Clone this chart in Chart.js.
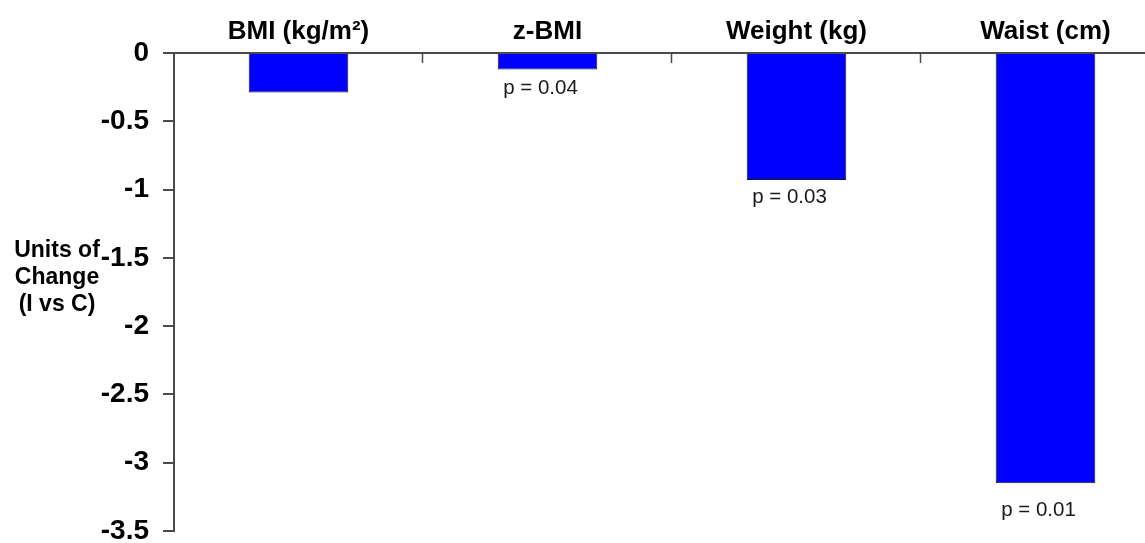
<!DOCTYPE html>
<html lang="en">
<head>
  <meta charset="UTF-8">
  <title>Units of Change (I vs C)</title>
  <style>
    body {
      margin: 0;
      background: #fff;
      overflow: hidden;
    }
    #myChart {
      display: block;
    }
  </style>
</head>
<body>
<!-- canvas is a bit wider than the window: the last category runs off the right edge like in the original -->
<canvas id="myChart" width="1170" height="543"></canvas>

<script src="https://cdn.jsdelivr.net/npm/chart.js"></script>
<script>
  const categories = ['BMI (kg/m²)', 'z-BMI', 'Weight (kg)', 'Waist (cm)'];
  const changeValues = [-0.29, -0.12, -0.93, -3.15];
  const pLabels = ['', 'p = 0.04', 'p = 0.03', 'p = 0.01'];
  const yTicks = [0, -0.5, -1, -1.5, -2, -2.5, -3, -3.5];
  const yTickLabels = ['0', '-0.5', '-1', '-1.5', '-2', '-2.5', '-3', '-3.5'];
  const yTitleLines = ['Units of', 'Change', '(I vs C)'];

  const FONT = 'Arial, "Liberation Sans", sans-serif';
  const AXIS = '#4a4a4a';

  // inner ticks between categories, p values under bars, y title
  const annotate = {
    id: 'annotate',
    afterDraw(chart, args, opts) {
      const ctx = chart.ctx;
      const x = chart.scales.x;
      const area = chart.chartArea;
      ctx.save();

      ctx.strokeStyle = AXIS;
      ctx.lineWidth = 1.5;
      for (let i = 1; i < categories.length; i++) {
        const px = Math.round((x.getPixelForTick(i - 1) + x.getPixelForTick(i)) / 2) - 0.5;
        ctx.beginPath();
        ctx.moveTo(px, area.top);
        ctx.lineTo(px, area.top + 10);
        ctx.stroke();
      }

      const bars = chart.getDatasetMeta(0).data;
      ctx.fillStyle = '#1a1a1a';
      ctx.font = '20.5px ' + FONT;
      ctx.textAlign = 'center';
      ctx.textBaseline = 'middle';
      pLabels.forEach((txt, i) => {
        if (!txt) return;
        ctx.fillText(txt, bars[i].x - 7, bars[i].y + opts.gaps[i]);
      });

      ctx.fillStyle = '#000';
      ctx.font = 'bold 23px ' + FONT;
      ctx.textBaseline = 'alphabetic';
      yTitleLines.forEach((line, i) => {
        ctx.fillText(line, 57, 257 + i * 27);
      });
      ctx.restore();
    }
  };

  new Chart(document.getElementById('myChart'), {
    type: 'bar',
    data: {
      labels: categories,
      datasets: [{
        data: changeValues,
        backgroundColor: '#0000ff',
        borderColor: '#1a1a1a',
        borderWidth: 1,
        categoryPercentage: 1,
        barPercentage: 0.4
      }]
    },
    options: {
      responsive: false,
      animation: false,
      layout: { padding: { top: 0, right: 0, bottom: 12, left: 0 } },
      plugins: {
        legend: { display: false },
        tooltip: { enabled: false },
        annotate: { gaps: [0, 19, 17, 27] }
      },
      scales: {
        x: {
          position: 'top',
          grid: { display: false, drawTicks: false },
          border: { display: true, color: AXIS, width: 2 },
          ticks: {
            color: '#000',
            padding: 6,
            maxRotation: 0,
            font: { family: FONT, size: 26, weight: 'bold' }
          },
          afterFit(scale) { scale.height = 53; }
        },
        y: {
          min: -3.5,
          max: 0,
          afterBuildTicks(scale) {
            scale.ticks = yTicks.map(v => ({ value: v }));
          },
          grid: { drawOnChartArea: false, tickLength: 11, color: AXIS, lineWidth: 2 },
          border: { color: AXIS, width: 2 },
          ticks: {
            color: '#000',
            padding: 14,
            font: { family: FONT, size: 28, weight: 'bold' },
            callback: (v, i) => yTickLabels[i]
          },
          afterFit(scale) {
            scale.width = 174;
            scale.paddingTop = 0;
            scale.paddingBottom = 0;
          }
        }
      }
    },
    plugins: [annotate]
  });
</script>
</body>
</html>
